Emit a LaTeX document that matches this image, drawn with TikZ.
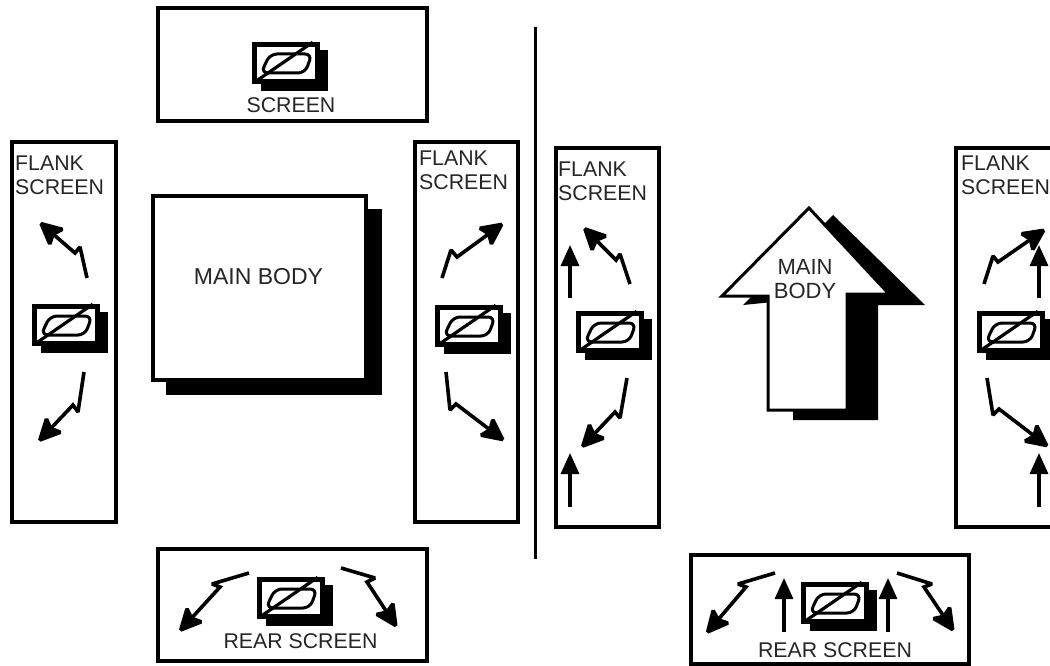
\documentclass[tikz,border=0pt]{standalone}
\usepackage{fontspec}
\setmainfont{Liberation Sans}
\usetikzlibrary{positioning,arrows.meta}

\tikzset{
	panel/.style={draw,line width=4pt,fill=white,inner sep=0pt},
	lbl/.style={inner sep=0pt,font=\fontsize{21.3}{24}\selectfont,align=left,text=black!85},
	zig/.style={line width=3.6pt,miter limit=2,-{Stealth[length=27pt,width=26pt,inset=5pt]}},
	upar/.style={line width=3.2pt,-{Stealth[length=21pt,width=18pt,inset=0pt]}},
}

\begin{document}
\begin{tikzpicture} [x=1pt,y=-1pt]

\newcommand{\scr}[3]{
	\node[draw,fill,minimum width=66pt,minimum height=40pt,inner sep=0pt] (#1s) at (#2+8,#3+7) {};
	\node[draw,line width=4.5pt,fill=white,minimum width=63pt,minimum height=37pt,inner sep=0pt] (#1) at (#2,#3) {};
	\draw[line width=3pt,rounded corners=7pt] (#2-25,#3+10) -- (#2-16,#3-9) -- (#2+26,#3-9) -- (#2+19,#3+10) -- cycle;
	\draw[line width=3.2pt] ([shift={(3,-2)}]#1.south west) -- ([shift={(-7,0)}]#1.north east);
}
\newcommand{\zz}[9]{
	\coordinate (#1t) at (#2,#3);
	\coordinate (#1a) at (#4,#5);
	\coordinate (#1b) at (#6,#7);
	\coordinate (#1h) at (#8,#9);
	\draw[zig] (#1t) -- (#1a) -- (#1b) -- (#1h);
}
\newcommand{\up}[4]{
	\coordinate (#1t) at (#2,#3);
	\coordinate (#1h) at (#2,#4);
	\draw[upar] (#1t) -- (#1h);
}

\useasboundingbox (0,0) rectangle (1050,666);
\clip (0,0) rectangle (1050,666);

\foreach \n/\x/\y/\w/\h in {topbox/292/64.5/269/113,lfbox/64/332/104/380,rfbox/466/332/103/380,rearbox/292/605/269/112,clfbox/607/337.5/103/379,crfbox/1008/337.5/104/379,crearbox/829.5/609.5/278/109}{
	\node[panel,minimum width=\w,minimum height=\h] (\n) at (\x,\y) {};
}

\node (divtop) at (535.5,26) [inner sep=0pt] {};
\node (divbot) at (535.5,560) [inner sep=0pt] {};
\draw[line width=3pt] (divtop) -- (divbot);

\scr{tops}{286}{63}
\scr{lfs}{66}{325}
\scr{rfs}{469}{326}
\scr{rears}{291}{598}
\scr{clfs}{610}{332}
\scr{crfs}{1011}{332}
\scr{crears}{835}{603}

\node[draw,fill,minimum width=215pt,minimum height=185pt,inner sep=0pt] (bodys) at (273.5,301.5) {};
\node[panel,line width=3.5pt,minimum width=213pt,minimum height=184pt] (body) at (259.5,288) {};
\node[lbl,font=\fontsize{23}{26}\selectfont] at (body) [yshift=11pt,xshift=-1pt] (bodytxt) {MAIN BODY};

\fill (833,215) -- (925,305) -- (878,305) -- (878,420) -- (793,420) -- (793,300) -- (743,305) -- (752,296) -- cycle;
\draw[line width=3pt,fill=white,miter limit=3] (809,208) -- (889,294) -- (847,294) -- (847,410) -- (768,410) -- (768,296) -- (722,296) -- cycle;
\node[lbl,align=center,font=\fontsize{22}{24}\selectfont] (arrowtxt) at (805,279) {MAIN\\BODY};

\node[lbl] (toptxt) at (291,105) {SCREEN};
\node[lbl,anchor=north west] (lftxt) at (15,156) {FLANK\\SCREEN};
\node[lbl,anchor=north west] (rftxt) at (419,151) {FLANK\\SCREEN};
\node[lbl] (reartxt) at (300.5,641) {REAR SCREEN};
\node[lbl,anchor=north west] (clftxt) at (558,162) {FLANK\\SCREEN};
\node[lbl,anchor=north west] (crftxt) at (961,156) {FLANK\\SCREEN};
\node[lbl] (creartxt) at (835,650) {REAR SCREEN};

\zz{a}{87}{278}{80}{247}{75}{253}{38}{221}
\zz{b}{84}{372}{78}{412}{73}{405}{37}{443}
\zz{c}{442}{278}{451}{250}{457}{257}{505}{222}
\zz{d}{446}{372}{450}{410}{456}{404}{506}{442}
\zz{e}{249}{573}{212}{584}{220}{587}{178}{633}
\zz{f}{341}{568}{375}{578}{367}{582}{398}{629}
\zz{g}{630}{284}{620}{254}{616}{260}{582}{226}
\zz{h}{627}{378}{620}{418}{615}{412}{580}{449}
\zz{i}{984}{284}{993}{256}{998}{262}{1047}{228}
\zz{j}{987}{378}{993}{415}{999}{409}{1050}{448}
\zz{k}{775}{573}{738}{584}{746}{587}{705}{635}
\zz{l}{897}{573}{932}{584}{924}{587}{955}{633}

\foreach[count=\c] \x/\y/\yy in {570/298/245,570/507/453,1039/298/245,1039/507/453,784/632/578,888/632/578}{
	\up{u\c}{\x}{\y}{\yy}
}

\end{tikzpicture}
\end{document}
